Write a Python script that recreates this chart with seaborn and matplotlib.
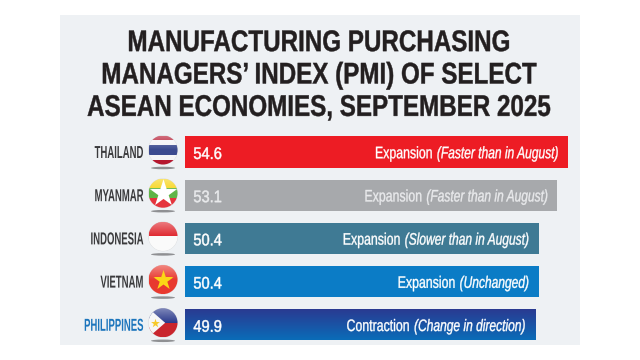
import numpy as np
import pandas as pd
import seaborn as sns
import matplotlib.pyplot as plt
from matplotlib.colors import LinearSegmentedColormap
from matplotlib.patches import Circle, Ellipse, Polygon, Rectangle
from matplotlib.patheffects import AbstractPathEffect
from matplotlib.transforms import Affine2D

countries = ['THAILAND', 'MYANMAR', 'INDONESIA', 'VIETNAM', 'PHILIPPINES']
pmi = [54.6, 53.1, 50.4, 50.4, 49.9]
status = ['Expansion', 'Expansion', 'Expansion', 'Expansion', 'Contraction']
notes = ['(Faster than in August)', '(Faster than in August)', '(Slower than in August)',
         '(Unchanged)', '(Change in direction)']
bar_colors = ['#ed1c24', '#a7a9ac', '#3f7a94', '#0b7cc6', '#1b52a4']
label_colors = ['#3a3a3c', '#3a3a3c', '#3a3a3c', '#3a3a3c', '#1c75bc']
title = 'MANUFACTURING PURCHASING\nMANAGERS\u2019 INDEX (PMI) OF SELECT\nASEAN ECONOMIES, SEPTEMBER 2025'

FONT = 'Liberation Sans'

sns.set_theme(style='white')
fig = plt.figure(figsize=(6.4, 3.6), dpi=100, facecolor='white')
rend = fig.canvas.get_renderer()


# no condensed font here, so squeeze the glyphs sideways about the text anchor
class Squeeze(AbstractPathEffect):
    def __init__(self, text, s, anchor, stroke):
        super().__init__()
        self.text, self.s, self.anchor, self.stroke = text, s, anchor, stroke

    def draw_path(self, renderer, gc, tpath, affine, rgbFace=None):
        box = self.text.get_window_extent(rend)
        xa = {'left': box.x0, 'right': box.x1, 'center': (box.x0 + box.x1) / 2}[self.anchor]
        squeezed = affine + Affine2D().translate(-xa, 0).scale(self.s, 1).translate(xa, 0)
        gc0 = renderer.new_gc()
        gc0.copy_properties(gc)
        if self.stroke and rgbFace is not None:
            gc0.set_foreground(rgbFace)
            gc0.set_linewidth(self.stroke)
        renderer.draw_path(gc0, tpath, squeezed, rgbFace)
        gc0.restore()


def squeeze(text, s, anchor, stroke=0.0):
    text.set_path_effects([Squeeze(text, s, anchor, stroke)])
    return text


# pixel canvas for the panel and the flags
bg = fig.add_axes([0, 0, 1, 1], zorder=0)
bg.set_xlim(0, 640)
bg.set_ylim(360, 0)
bg.axis('off')
bg.add_patch(Rectangle((60, 15), 520, 330, color='#eef1f4', lw=0))

# bars, x runs from 0 to the largest value
ax = fig.add_axes([185 / 640, 1 - 346.4 / 360, 383 / 640, 216 / 360], zorder=1)
ax.patch.set_alpha(0)
df = pd.DataFrame({'country': countries, 'pmi': pmi})
sns.barplot(data=df, x='pmi', y='country', hue='country', palette=bar_colors,
            legend=False, width=0.72, saturation=1, linewidth=0, ax=ax)
ax.set_xlim(0, max(pmi))
ax.set_ylim(4.5, -0.5)
ax.set_xlabel('')
ax.set_ylabel('')
ax.set_xticks([])
sns.despine(ax=ax, left=True, bottom=True)
ax.tick_params(axis='y', length=0, pad=30)
for tick, c in zip(ax.get_yticklabels(), label_colors):
    tick.set_fontfamily(FONT)
    tick.set_fontsize(12.5)
    tick.set_fontweight('bold')
    tick.set_color(c)
    squeeze(tick, 0.55, 'right')

# philippines bar has a navy to blue fade
last = ax.patches[4]
grad = LinearSegmentedColormap.from_list('ph', ['#2b3990', '#1b52a4', '#0a6cb8'])
im = ax.imshow(np.linspace(0, 1, 50).reshape(-1, 1), cmap=grad, aspect='auto', zorder=3,
               extent=(0, pmi[4], 4 + 0.36, 4 - 0.36))
ax.set_xlim(0, max(pmi))
ax.set_ylim(4.5, -0.5)
im.set_clip_path(last)

fig.canvas.draw()
for i, (v, s, n) in enumerate(zip(pmi, status, notes)):
    txt = '#e9eaec' if i == 1 else 'white'
    val = ax.annotate(f'{v}', xy=(0, i), xytext=(6, -5), textcoords='offset points',
                      color=txt, fontsize=12, family=FONT, zorder=5)
    squeeze(val, 0.88, 'left', 0.35)
    # note hangs from its left edge so both parts meet in the gap
    it = ax.annotate(n, xy=(v, i), xytext=(-7, -4.5), textcoords='offset points', ha='left',
                     color=txt, fontsize=12, style='italic', family=FONT, zorder=5)
    w = it.get_window_extent(rend).width * 0.72 * 72 / 100
    it.set_position((-7 - w, -4.5))
    squeeze(it, 0.72, 'left', 0.25)
    reg = ax.annotate(s, xy=(v, i), xytext=(-7 - w - 3, -4.5), textcoords='offset points', ha='right',
                      color=txt, fontsize=12, family=FONT, zorder=5)
    squeeze(reg, 0.74, 'right', 0.25)

head = fig.text(319 / 640, 1 - 75.5 / 360, title, ha='center', va='center', color='#231f20', fontsize=21.5,
                fontweight='bold', family=FONT, linespacing=1.2)
squeeze(head, 0.81, 'center', 0.3)


def flag(cy, draw):
    cx, r = 163, 14.5
    bg.add_patch(Ellipse((cx, cy + 18), 24, 2.5, color='#77787b', lw=0, alpha=0.8))
    disc = Circle((cx, cy), r, facecolor='white', edgecolor='#d8d9db', lw=0.5, zorder=2)
    bg.add_patch(disc)
    parts = draw(cx, cy, r)
    for p in parts:
        p.set_clip_path(disc)
    # soft shine on the top half
    shine = np.zeros((40, 1, 4))
    shine[..., :3] = 1
    shine[..., 3] = np.linspace(0.4, 0, 40)[:, None]
    g = bg.imshow(shine, extent=(cx - r, cx + r, cy, cy - r), aspect='auto', zorder=4)
    g.set_clip_path(disc)
    bg.set_xlim(0, 640)
    bg.set_ylim(360, 0)


def band(cx, cy, r, top, bottom, c):
    p = Rectangle((cx - r, cy + top * r), 2 * r, (bottom - top) * r, color=c, lw=0, zorder=3)
    bg.add_patch(p)
    return p


def star(cx, cy, size, c):
    return bg.scatter([cx], [cy], marker='*', s=size, color=c, linewidths=0, zorder=5)


def thailand(cx, cy, r):
    return [band(cx, cy, r, -1, -2 / 3, '#b5172f'), band(cx, cy, r, -2 / 3, -1 / 3, '#f4f4f6'),
            band(cx, cy, r, -1 / 3, 1 / 3, '#3b4a8f'), band(cx, cy, r, 1 / 3, 2 / 3, '#f4f4f6'),
            band(cx, cy, r, 2 / 3, 1, '#b5172f')]


def myanmar(cx, cy, r):
    return [band(cx, cy, r, -1, -1 / 3, '#f7d417'), band(cx, cy, r, -1 / 3, 1 / 3, '#5fb446'),
            band(cx, cy, r, 1 / 3, 1, '#e5343d'), star(cx, cy, 420, 'white')]


def indonesia(cx, cy, r):
    return [band(cx, cy, r, -1, 0, '#e02b32'), band(cx, cy, r, 0, 1, '#fafafa')]


def vietnam(cx, cy, r):
    return [band(cx, cy, r, -1, 1, '#e8392f'), star(cx, cy, 230, '#fbd616')]


def philippines(cx, cy, r):
    tri = Polygon([(cx - r, cy - r), (cx + 0.15 * r, cy), (cx - r, cy + r)], color='#f6f6f6', lw=0, zorder=4)
    bg.add_patch(tri)
    return [band(cx, cy, r, -1, 0, '#2b3a8c'), band(cx, cy, r, 0, 1, '#c9252d'), tri,
            star(cx - 0.55 * r, cy, 45, '#f7c928')]


ax_to_px = lambda i: ax.transData.transform((0, i))[1]
for i, d in enumerate([thailand, myanmar, indonesia, vietnam, philippines]):
    flag(360 - ax_to_px(i) - 2, d)

fig.savefig('out.png', dpi=100)
